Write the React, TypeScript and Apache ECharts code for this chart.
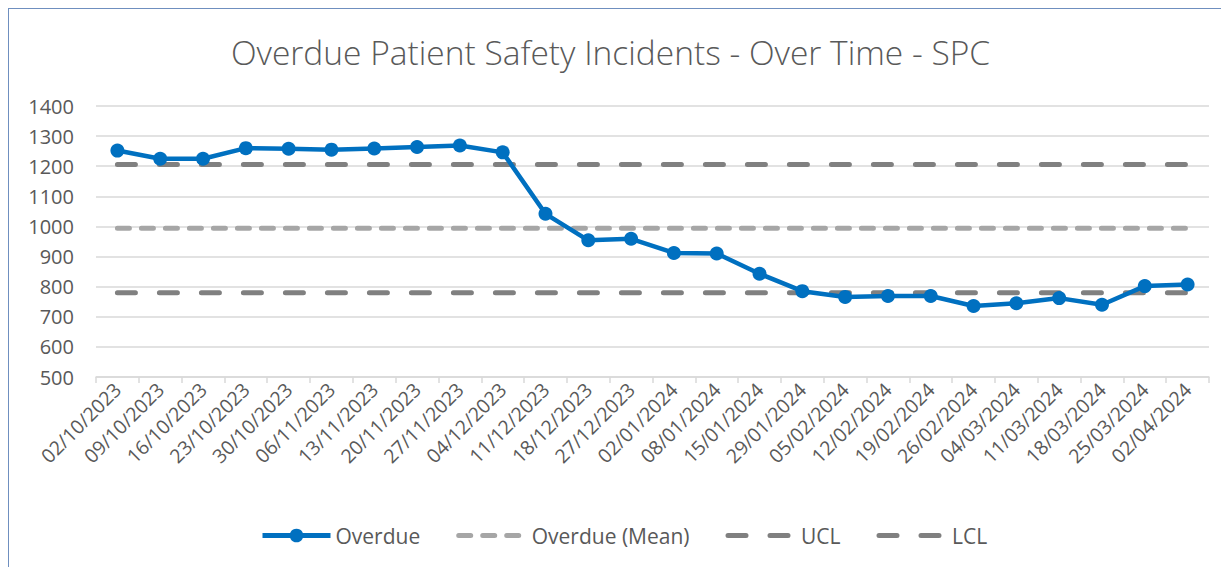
import React, { useEffect, useRef } from "react";
import * as echarts from "echarts";

const categories = [
  "02/10/2023", "09/10/2023", "16/10/2023", "23/10/2023", "30/10/2023",
  "06/11/2023", "13/11/2023", "20/11/2023", "27/11/2023", "04/12/2023",
  "11/12/2023", "18/12/2023", "27/12/2023", "02/01/2024", "08/01/2024",
  "15/01/2024", "29/01/2024", "05/02/2024", "12/02/2024", "19/02/2024",
  "26/02/2024", "04/03/2024", "11/03/2024", "18/03/2024", "25/03/2024",
  "02/04/2024",
];

const overdue = [
  1252, 1225, 1225, 1260, 1258, 1255, 1259, 1264, 1269, 1246,
  1042, 954, 959, 912, 910, 843, 785, 766, 769, 769,
  736, 745, 762, 740, 802, 807,
];

const meanValue = 994;
const uclValue = 1206;
const lclValue = 780;

const meanSeries = categories.map(() => meanValue);
const uclSeries = categories.map(() => uclValue);
const lclSeries = categories.map(() => lclValue);

const FONT = "'Open Sans', sans-serif";
const TEXT = "#595959";

const meanDash = { color: "#A6A6A6", width: 5, type: [12, 12], cap: "round" };
const limitDash = { color: "#808080", width: 5, type: [18, 24], cap: "round" };

export default function App() {
  const ref = useRef<HTMLDivElement>(null);
  useEffect(() => {
    if (!ref.current) return;
    const chart = echarts.init(ref.current, undefined, { renderer: "svg" });
    chart.setOption({
      animation: false,
      backgroundColor: "#ffffff",
      title: {
        text: "Overdue Patient Safety Incidents - Over Time - SPC",
        left: "center",
        top: 30,
        textStyle: { fontFamily: FONT, fontSize: 33.5, fontWeight: 300, color: TEXT },
      },
      graphic: [
        { type: "line", shape: { x1: 8.5, y1: 8, x2: 8.5, y2: 567 }, style: { stroke: "#6f8fbf", lineWidth: 1 } },
        { type: "line", shape: { x1: 8, y1: 8.5, x2: 1221, y2: 8.5 }, style: { stroke: "#6f8fbf", lineWidth: 1 } },
      ],
      legend: {
        bottom: 16,
        left: 255,
        itemWidth: 68,
        itemHeight: 17,
        itemGap: 36,
        textStyle: { fontFamily: FONT, fontSize: 21, color: TEXT },
        data: [
          { name: "Overdue", lineStyle: { width: 5, color: "#0070C0" } },
          { name: "Overdue (Mean)", lineStyle: meanDash, itemStyle: { opacity: 0 } },
          { name: "UCL", lineStyle: limitDash, itemStyle: { opacity: 0 } },
          { name: "LCL", lineStyle: limitDash, itemStyle: { opacity: 0 } },
        ],
      },
      grid: { left: 96, right: 12, top: 106, bottom: 190 },
      xAxis: {
        type: "category",
        data: categories,
        boundaryGap: true,
        axisLine: { lineStyle: { color: "#D9D9D9", width: 1.5 } },
        axisTick: { show: true, length: 6, lineStyle: { color: "#D9D9D9", width: 1.5 } },
        axisLabel: {
          rotate: 45,
          interval: 0,
          fontFamily: FONT,
          fontSize: 19.5,
          color: TEXT,
          margin: 9,
        },
      },
      yAxis: {
        type: "value",
        min: 500,
        max: 1400,
        interval: 100,
        axisLine: { show: false },
        axisTick: { show: false },
        splitLine: { lineStyle: { color: "#D9D9D9", width: 1.5 } },
        axisLabel: {
          fontFamily: FONT,
          fontSize: 20,
          color: TEXT,
          margin: 22,
          formatter: (v: number) => String(v),
        },
      },
      series: [
        {
          name: "Overdue (Mean)",
          type: "line",
          data: meanSeries,
          symbol: "none",
          z: 2,
          lineStyle: meanDash,
          itemStyle: { color: "#A6A6A6" },
        },
        {
          name: "UCL",
          type: "line",
          data: uclSeries,
          symbol: "none",
          z: 2,
          lineStyle: limitDash,
          itemStyle: { color: "#808080" },
        },
        {
          name: "LCL",
          type: "line",
          data: lclSeries,
          symbol: "none",
          z: 2,
          lineStyle: limitDash,
          itemStyle: { color: "#808080" },
        },
        {
          name: "Overdue",
          type: "line",
          data: overdue,
          symbol: "circle",
          symbolSize: 14,
          z: 5,
          lineStyle: { color: "#0070C0", width: 4.5 },
          itemStyle: { color: "#0070C0" },
        },
      ],
    });
    return () => chart.dispose();
  }, []);
  return (
    <div
      ref={ref}
      style={{ position: "fixed", left: 0, top: 0, width: 1221, height: 567 }}
    />
  );
}
